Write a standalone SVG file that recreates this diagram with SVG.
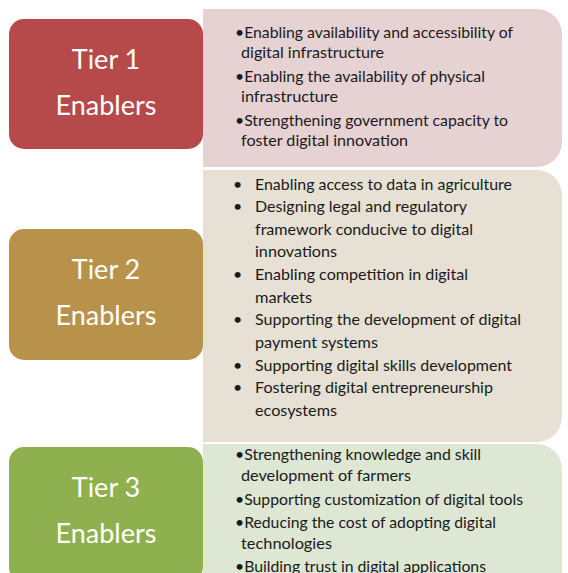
<svg xmlns="http://www.w3.org/2000/svg" width="568" height="573" viewBox="0 0 568 573">
<style>
.tier{font-family:Lato,"Liberation Sans",sans-serif;font-size:27px;fill:#ffffff;text-anchor:middle}
.t{font-family:Lato,"Liberation Sans",sans-serif;font-size:16px;fill:#1a1a1a}
</style>
<rect width="568" height="573" fill="#ffffff"/>
<g id="panel1">
<path d="M203,9 H537 A25,25 0 0 1 562,34 V142 A25,25 0 0 1 537,167 H203 Z" fill="#e7d2d3"/>
<text class="t" x="235" y="38" textLength="278" lengthAdjust="spacingAndGlyphs">•Enabling availability and accessibility of</text>
<text class="t" x="241" y="58" textLength="143" lengthAdjust="spacingAndGlyphs">digital infrastructure</text>
<text class="t" x="235" y="82" textLength="250" lengthAdjust="spacingAndGlyphs">•Enabling the availability of physical</text>
<text class="t" x="241" y="102" textLength="97" lengthAdjust="spacingAndGlyphs">infrastructure</text>
<text class="t" x="235" y="126" textLength="273" lengthAdjust="spacingAndGlyphs">•Strengthening government capacity to</text>
<text class="t" x="241" y="146" textLength="167" lengthAdjust="spacingAndGlyphs">foster digital innovation</text>
</g>
<g id="panel2">
<path d="M203,170 H537 A25,25 0 0 1 562,195 V417 A25,25 0 0 1 537,442 H203 Z" fill="#e6e1d4"/>
<g class="t">
<text class="t" x="233" y="190">•</text>
<text class="t" x="233" y="212">•</text>
<text class="t" x="233" y="280">•</text>
<text class="t" x="233" y="325">•</text>
<text class="t" x="233" y="371">•</text>
<text class="t" x="233" y="393">•</text>
</g>
<text class="t" x="255" y="190" textLength="257" lengthAdjust="spacingAndGlyphs">Enabling access to data in agriculture</text>
<text class="t" x="255" y="212" textLength="212" lengthAdjust="spacingAndGlyphs">Designing legal and regulatory</text>
<text class="t" x="255" y="235" textLength="218" lengthAdjust="spacingAndGlyphs">framework conducive to digital</text>
<text class="t" x="255" y="257" textLength="82" lengthAdjust="spacingAndGlyphs">innovations</text>
<text class="t" x="255" y="280" textLength="213" lengthAdjust="spacingAndGlyphs">Enabling competition in digital</text>
<text class="t" x="255" y="303" textLength="57" lengthAdjust="spacingAndGlyphs">markets</text>
<text class="t" x="255" y="325" textLength="266" lengthAdjust="spacingAndGlyphs">Supporting the development of digital</text>
<text class="t" x="255" y="348" textLength="123" lengthAdjust="spacingAndGlyphs">payment systems</text>
<text class="t" x="255" y="371" textLength="257" lengthAdjust="spacingAndGlyphs">Supporting digital skills development</text>
<text class="t" x="255" y="393" textLength="238" lengthAdjust="spacingAndGlyphs">Fostering digital entrepreneurship</text>
<text class="t" x="255" y="416" textLength="82" lengthAdjust="spacingAndGlyphs">ecosystems</text>
</g>
<g id="panel3">
<path d="M203,444 H537 A25,25 0 0 1 562,469 V590 H203 Z" fill="#dee6d4"/>
<text class="t" x="235" y="460" textLength="246" lengthAdjust="spacingAndGlyphs">•Strengthening knowledge and skill</text>
<text class="t" x="241" y="481" textLength="170" lengthAdjust="spacingAndGlyphs">development of farmers</text>
<text class="t" x="235" y="505" textLength="288" lengthAdjust="spacingAndGlyphs">•Supporting customization of digital tools</text>
<text class="t" x="235" y="528" textLength="261" lengthAdjust="spacingAndGlyphs">•Reducing the cost of adopting digital</text>
<text class="t" x="241" y="549" textLength="91" lengthAdjust="spacingAndGlyphs">technologies</text>
<text class="t" x="235" y="572" textLength="251" lengthAdjust="spacingAndGlyphs">•Building trust in digital applications</text>
</g>
<g id="tier1">
<rect x="9" y="19" width="194" height="130" rx="15" fill="#b64a4a"/>
<text class="tier" x="106" y="69">Tier 1</text>
<text class="tier" x="106" y="115">Enablers</text>
</g>
<g id="tier2">
<rect x="9" y="229" width="194" height="131" rx="15" fill="#b8924b"/>
<text class="tier" x="106" y="279">Tier 2</text>
<text class="tier" x="106" y="325">Enablers</text>
</g>
<g id="tier3">
<rect x="9" y="447" width="194" height="135" rx="15" fill="#8fb04e"/>
<text class="tier" x="106" y="497">Tier 3</text>
<text class="tier" x="106" y="543">Enablers</text>
</g>
</svg>
